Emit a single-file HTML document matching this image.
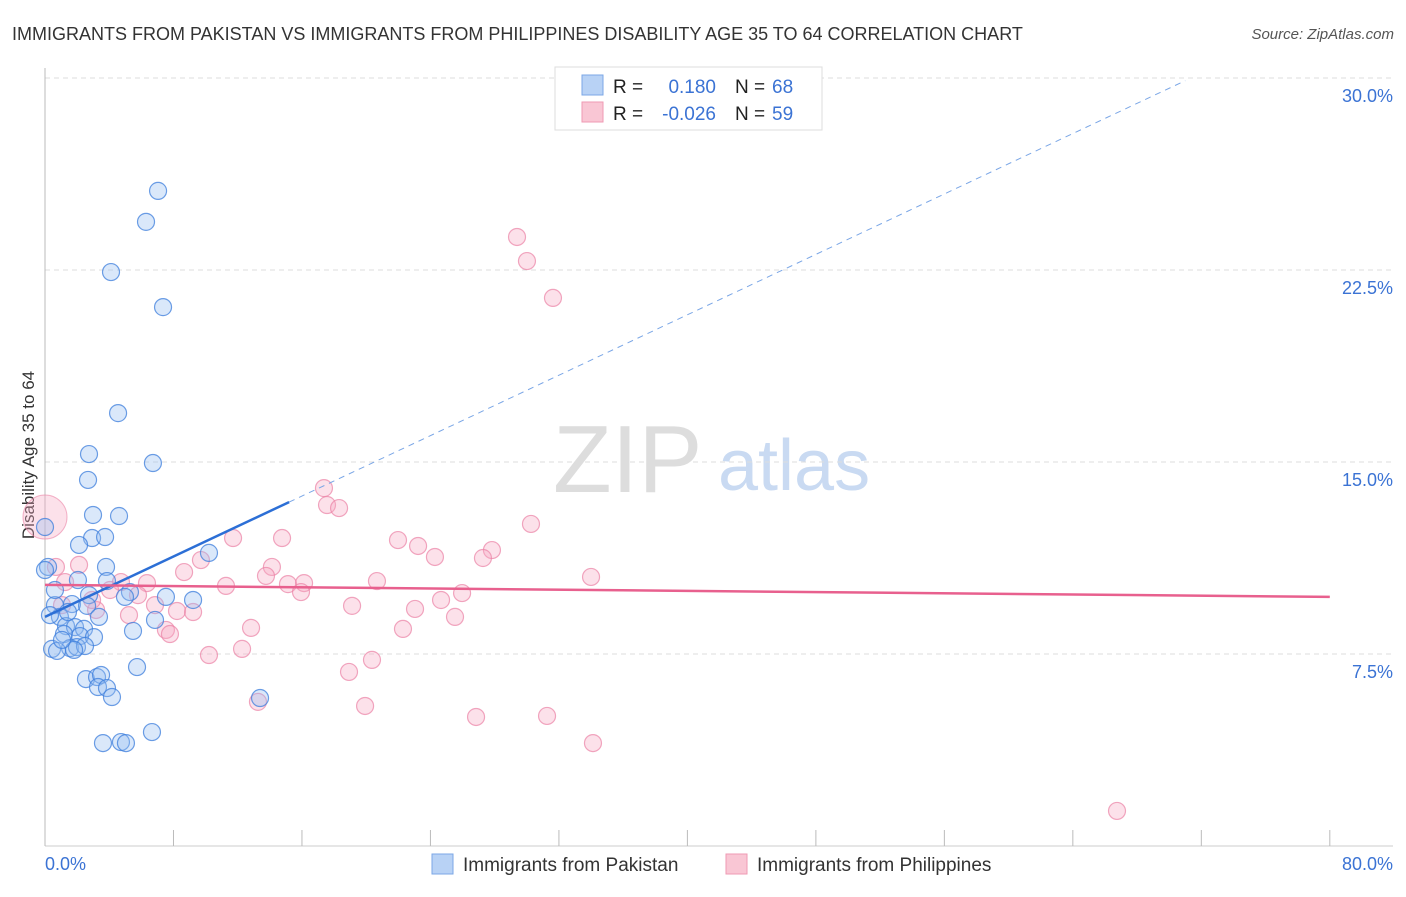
<!DOCTYPE html>
<html><head><meta charset="utf-8"><style>
body{margin:0;background:#fff;font-family:"Liberation Sans",sans-serif}
svg text{font-family:"Liberation Sans",sans-serif}
</style></head><body>
<svg width="1406" height="892" viewBox="0 0 1406 892" xmlns="http://www.w3.org/2000/svg">
<text x="12" y="40" font-size="18" fill="#333">IMMIGRANTS FROM PAKISTAN VS IMMIGRANTS FROM PHILIPPINES DISABILITY AGE 35 TO 64 CORRELATION CHART</text>
<text x="1394" y="39" font-size="15" fill="#555" font-style="italic" text-anchor="end">Source: ZipAtlas.com</text>
<g>
<text x="553" y="492" font-size="96" fill="#ddd" font-family="Liberation Serif,serif">ZIP</text>
<text x="718" y="490" font-size="72" fill="#c9daf2">atlas</text>
</g>
<g id="grid"></g>
<g id="axes"></g>
<text x="34" y="455" font-size="17" fill="#333" text-anchor="middle" transform="rotate(-90 34 455)">Disability Age 35 to 64</text>
<g id="pts"></g>
<g id="trend"></g>
<g>
<rect x="555" y="67" width="267" height="63" fill="#fff" stroke="#ddd"/>
<rect x="582" y="75" width="21" height="20" fill="#b8d2f5" stroke="#7ba7e6"/>
<rect x="582" y="102" width="21" height="20" fill="#f9c6d4" stroke="#ef9ab3"/>
<text x="613" y="93" font-size="19" fill="#222">R = </text>
<text x="716" y="93" font-size="19" fill="#3b73d4" text-anchor="end">0.180</text>
<text x="735" y="93" font-size="19" fill="#222">N = </text><text x="772" y="93" font-size="19" fill="#3b73d4">68</text>
<text x="613" y="120" font-size="19" fill="#222">R = </text>
<text x="716" y="120" font-size="19" fill="#3b73d4" text-anchor="end">-0.026</text>
<text x="735" y="120" font-size="19" fill="#222">N = </text><text x="772" y="120" font-size="19" fill="#3b73d4">59</text>
</g>
<g>
<rect x="432" y="854" width="21" height="20" fill="#b8d2f5" stroke="#7ba7e6"/>
<text x="463" y="871" font-size="19" fill="#333">Immigrants from Pakistan</text>
<rect x="726" y="854" width="21" height="20" fill="#f9c6d4" stroke="#ef9ab3"/>
<text x="757" y="871" font-size="19" fill="#333">Immigrants from Philippines</text>
</g>
</svg>
<script>
const yTicks=[7.5,15,22.5,30];
const yTickLabels=["7.5%","15.0%","22.5%","30.0%"];
const xTickLabels=["0.0%","80.0%"];
const pakX=[7.04,6.29,4.11,7.35,4.55,6.72,2.74,2.68,2.99,4.61,2.93,3.74,2.12,0,10.21,3.8,0.19,2.05,3.86,5.29,2.74,4.98,7.53,9.22,0.62,1.68,2.62,3.36,6.85,0.93,1.31,1.87,2.43,1.18,2.18,3.05,5.48,0.44,1.56,1.99,2.49,0.75,1.81,5.73,2.55,3.24,3.49,3.3,3.86,4.17,13.39,3.61,4.73,5.04,6.66,0.31,0,0.62,1.06,1.43];
const pakY=[25.59,24.38,22.42,21.05,16.91,14.96,15.31,14.3,12.93,12.89,12.03,12.07,11.76,12.46,11.45,10.9,10.9,10.39,10.35,9.92,9.8,9.73,9.73,9.61,9.41,9.45,9.38,8.95,8.83,8.95,8.59,8.55,8.48,8.28,8.2,8.16,8.4,7.7,7.73,7.77,7.81,7.62,7.66,6.99,6.52,6.6,6.68,6.21,6.17,5.82,5.78,4.02,4.06,4.02,4.45,9.02,10.78,10,8.05,9.14];
const phiX=[0.68,29.39,30.01,31.63,17.37,17.56,18.31,30.26,11.71,14.76,21.98,23.23,24.28,27.83,27.27,14.13,9.71,8.66,13.76,15.13,16.13,15.94,11.27,20.67,34,6.35,4.73,1.25,1.06,3.18,5.79,6.85,8.22,9.22,5.23,19.12,23.04,24.66,25.97,25.53,22.29,12.83,7.53,7.78,10.21,12.27,20.36,18.93,13.26,19.93,26.84,31.26,34.12,66.75,2.12,4.05,2.93];
const phiY=[10.9,23.79,22.85,21.41,13.98,13.32,13.2,12.58,12.03,12.03,11.95,11.72,11.29,11.56,11.25,10.9,11.17,10.7,10.55,10.23,10.27,9.92,10.16,10.35,10.51,10.27,10.31,10.31,9.41,9.22,9.8,9.41,9.18,9.14,9.02,9.38,9.26,9.61,9.88,8.95,8.48,8.52,8.44,8.28,7.46,7.7,7.27,6.8,5.63,5.47,5.04,5.08,4.02,1.37,10.98,10,9.61];
const bigPhi=[0,12.85];
const pakTrend=[8.95,0.295,15.2,71];
const phiTrend=[10.2,9.73];
const X=v=>45+v*16.06, Y=v=>846-v*25.6;
const NS="http://www.w3.org/2000/svg";
function mk(p,t,a){const e=document.createElementNS(NS,t);for(const k in a)e.setAttribute(k,a[k]);p.appendChild(e);return e;}
const grid=document.getElementById('grid'),axes=document.getElementById('axes'),pts=document.getElementById('pts'),tr=document.getElementById('trend');
yTicks.forEach((t,i)=>{
 const l=mk(grid,'line',{x1:45,x2:1393,y1:Y(t),y2:Y(t),stroke:'#ddd','stroke-dasharray':'5,4'});
 
 
 const tx=mk(axes,'text',{x:1393,y:Y(t)+24,'font-size':18,fill:'#3b73d4','text-anchor':'end'});tx.textContent=yTickLabels[i];
 
 
});
mk(axes,'line',{x1:45,x2:45,y1:68,y2:846,stroke:'#bbb'});
mk(axes,'line',{x1:45,x2:1393,y1:846,y2:846,stroke:'#ccc'});
for(let i=0;i<=10;i++){const x=X(i*8);mk(axes,'line',{x1:x,x2:x,y1:830,y2:846,stroke:'#bbb'});}
let t1=mk(axes,'text',{x:45,y:870,'font-size':18,fill:'#3b73d4'});t1.textContent=xTickLabels[0];


let t2=mk(axes,'text',{x:1393,y:870,'font-size':18,fill:'#3b73d4','text-anchor':'end'});t2.textContent=xTickLabels[1];


const big=mk(pts,'circle',{cx:X(bigPhi[0]),cy:Y(bigPhi[1]),r:22,fill:'rgba(246,170,195,0.35)',stroke:'rgba(235,130,165,0.6)'});


phiX.forEach((x,i)=>{const c=mk(pts,'circle',{cx:X(x),cy:Y(phiY[i]),r:8.5,fill:'rgba(246,170,195,0.35)',stroke:'rgba(235,130,165,0.7)','stroke-width':1.2});
 
 });
pakX.forEach((x,i)=>{const c=mk(pts,'circle',{cx:X(x),cy:Y(pakY[i]),r:8.5,fill:'rgba(150,190,240,0.35)',stroke:'rgba(60,125,220,0.75)','stroke-width':1.2});
 
 });
const py=x=>pakTrend[0]+pakTrend[1]*x;
const s=mk(tr,'line',{x1:X(0),y1:Y(py(0)),x2:X(pakTrend[2]),y2:Y(py(pakTrend[2])),stroke:'#2c6fd6','stroke-width':2.5});


const d=mk(tr,'line',{x1:X(pakTrend[2]),y1:Y(py(pakTrend[2])),x2:X(pakTrend[3]),y2:Y(py(pakTrend[3])),stroke:'#7aa6e6','stroke-width':1,'stroke-dasharray':'6,5'});


const p=mk(tr,'line',{x1:X(0),y1:Y(phiTrend[0]),x2:X(80),y2:Y(phiTrend[1]),stroke:'#e8608e','stroke-width':2.5});


</script>
</body></html>
